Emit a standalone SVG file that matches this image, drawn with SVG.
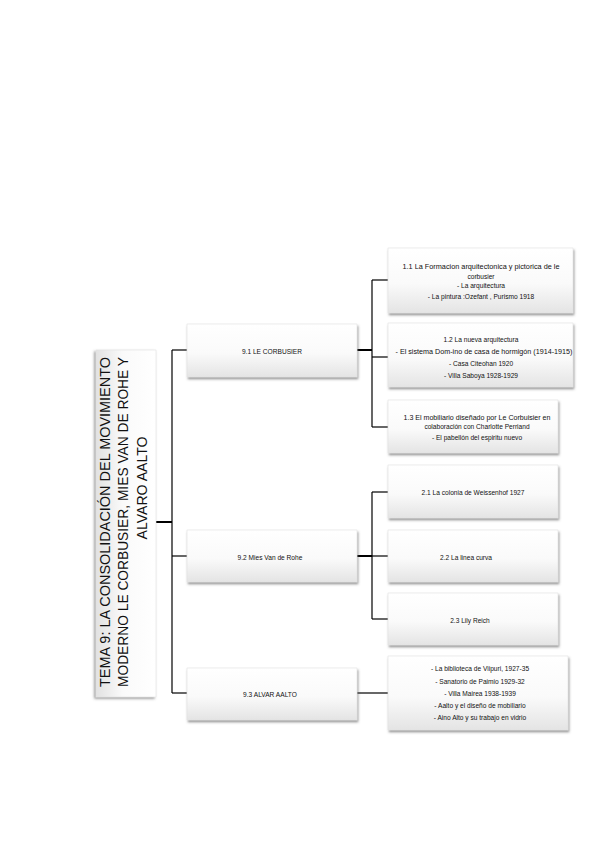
<svg xmlns="http://www.w3.org/2000/svg" width="599" height="848" viewBox="0 0 599 848">
<defs>
<linearGradient id="gv" x1="0" y1="0" x2="0" y2="1">
<stop offset="0" stop-color="#ffffff"/><stop offset="0.55" stop-color="#fafafa"/><stop offset="1" stop-color="#e4e4e4"/>
</linearGradient>
<linearGradient id="gh" x1="1" y1="0" x2="0" y2="0">
<stop offset="0" stop-color="#ffffff"/><stop offset="0.55" stop-color="#fafafa"/><stop offset="1" stop-color="#e2e2e2"/>
</linearGradient>
<filter id="sh" x="-10%" y="-10%" width="120%" height="125%">
<feDropShadow dx="1" dy="2" stdDeviation="0.8" flood-color="#555" flood-opacity="0.6"/>
</filter>
<filter id="shr" x="-15%" y="-5%" width="130%" height="110%">
<feDropShadow dx="-1.5" dy="1.5" stdDeviation="0.8" flood-color="#555" flood-opacity="0.6"/>
</filter>
</defs>
<style>
.box{fill:url(#gv);stroke:#e2e2e2;stroke-width:0.6;filter:url(#sh)}
.rbox{fill:url(#gh);stroke:#e2e2e2;stroke-width:0.6;filter:url(#shr)}
.t{font-family:"Liberation Sans",Arial,sans-serif;font-size:6.6px;fill:#111;text-anchor:middle}
.rt{font-family:"Liberation Sans",Arial,sans-serif;font-size:15px;fill:#111}
.c{stroke:#000;stroke-width:1.2;fill:none}
.cb{stroke:#000;stroke-width:2;fill:none}
</style>
<rect width="599" height="848" fill="#ffffff"/>
<g id="connectors">
<line class="cb" x1="156" y1="522" x2="172" y2="522"/>
<line class="c" x1="172" y1="350" x2="172" y2="693"/>
<line class="c" x1="172" y1="350" x2="187" y2="350"/>
<line class="c" x1="172" y1="556" x2="187" y2="556"/>
<line class="c" x1="172" y1="693" x2="187" y2="693"/>
<line class="cb" x1="357" y1="350" x2="372" y2="350"/>
<line class="c" x1="372" y1="280" x2="372" y2="427"/>
<line class="c" x1="372" y1="280" x2="388" y2="280"/>
<line class="c" x1="372" y1="357" x2="388" y2="357"/>
<line class="c" x1="372" y1="427" x2="388" y2="427"/>
<line class="cb" x1="357" y1="556" x2="372" y2="556"/>
<line class="c" x1="372" y1="492" x2="372" y2="619"/>
<line class="c" x1="372" y1="492" x2="388" y2="492"/>
<line class="c" x1="372" y1="556" x2="388" y2="556"/>
<line class="c" x1="372" y1="619" x2="388" y2="619"/>
<line class="c" x1="357" y1="693" x2="388" y2="693"/>
</g>
<g id="root">
<rect class="rbox" x="96" y="350" width="60" height="347"/>
<text class="rt" transform="translate(110,522) rotate(-90)" text-anchor="middle" textLength="330" lengthAdjust="spacingAndGlyphs">TEMA 9: LA CONSOLIDACIÓN DEL MOVIMIENTO</text>
<text class="rt" transform="translate(128,522) rotate(-90)" text-anchor="middle" textLength="330" lengthAdjust="spacingAndGlyphs">MODERNO LE CORBUSIER, MIES VAN DE ROHE Y</text>
<text class="rt" transform="translate(147,488) rotate(-90)" text-anchor="middle" textLength="103" lengthAdjust="spacingAndGlyphs">ALVARO AALTO</text>
</g>
<g id="n91">
<rect class="box" x="187" y="324" width="170" height="53"/>
<text class="t" x="272" y="354">9.1 LE CORBUSIER</text>
</g>
<g id="n92">
<rect class="box" x="187" y="530" width="170" height="52"/>
<text class="t" x="270" y="560">9.2 Mies Van de Rohe</text>
</g>
<g id="n93">
<rect class="box" x="187" y="668" width="170" height="52"/>
<text class="t" x="270" y="696.5">9.3 ALVAR AALTO</text>
</g>
<g id="n11">
<rect class="box" x="388" y="248" width="185" height="65"/>
<text class="t" x="481" y="269" textLength="157" lengthAdjust="spacingAndGlyphs">1.1 La Formacion arquitectonica y pictorica de le</text>
<text class="t" x="481" y="278.5">corbusier</text>
<text class="t" x="481" y="288">- La arquitectura</text>
<text class="t" x="481" y="299">- La pintura :Ozefant , Purismo 1918</text>
</g>
<g id="n12">
<rect class="box" x="388" y="323" width="185" height="64"/>
<text class="t" x="481" y="341.5">1.2 La nueva arquitectura</text>
<text class="t" x="484" y="354" textLength="177" lengthAdjust="spacingAndGlyphs">- El sistema Dom-ino de casa de hormigón (1914-1915)</text>
<text class="t" x="481" y="365.5">- Casa Citeohan 1920</text>
<text class="t" x="481" y="377.5">- Villa Saboya 1928-1929</text>
</g>
<g id="n13">
<rect class="box" x="388" y="400" width="170" height="53"/>
<text class="t" x="477" y="420" textLength="147" lengthAdjust="spacingAndGlyphs">1.3 El mobiliario diseñado por Le Corbuisier en</text>
<text class="t" x="477" y="429">colaboración con Charlotte Perriand</text>
<text class="t" x="477" y="440">- El pabellón del espiritu nuevo</text>
</g>
<g id="n21">
<rect class="box" x="388" y="465" width="170" height="53"/>
<text class="t" x="473" y="494.5">2.1 La colonia de Weissenhof 1927</text>
</g>
<g id="n22">
<rect class="box" x="388" y="530" width="170" height="52"/>
<text class="t" x="466" y="560">2.2 La linea curva</text>
</g>
<g id="n23">
<rect class="box" x="388" y="593" width="170" height="52"/>
<text class="t" x="470" y="622.5">2.3 Lily Reich</text>
</g>
<g id="n31">
<rect class="box" x="388" y="656" width="180" height="74"/>
<text class="t" x="480" y="670.5">- La biblioteca de Viipuri, 1927-35</text>
<text class="t" x="480" y="683.5">- Sanatorio de Paimio 1929-32</text>
<text class="t" x="480" y="696">- Villa Mairea 1938-1939</text>
<text class="t" x="480" y="708">- Aalto y el diseño de mobiliario</text>
<text class="t" x="480" y="720">- Aino Alto y su trabajo en vidrio</text>
</g>
</svg>
